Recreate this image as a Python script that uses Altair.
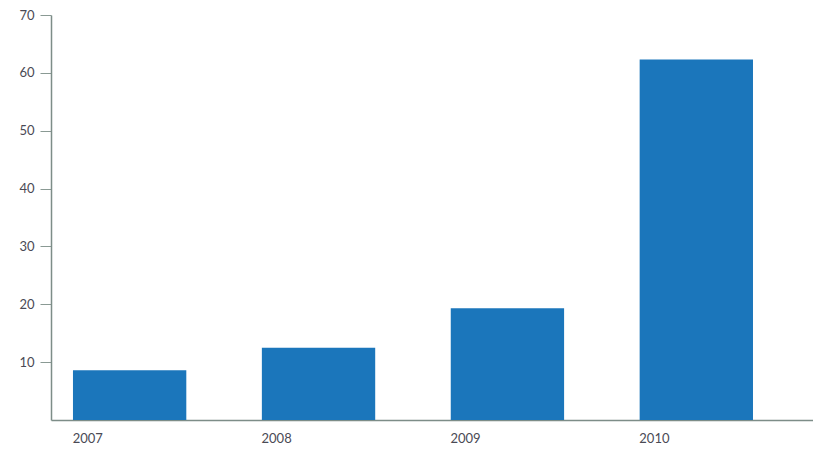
import altair as alt
import pandas as pd

years = ["2007", "2008", "2009", "2010"]
values = [8.6, 12.5, 19.3, 62.3]
y_ticks = [10, 20, 30, 40, 50, 60, 70]

df = pd.DataFrame({"year": years, "value": values})

chart = alt.Chart(df).mark_bar(color="#1b76bb").encode(
    x=alt.X("year:N", sort=years, title=None,
            scale=alt.Scale(paddingInner=0.4, paddingOuter=0.217, align=0.268),
            axis=alt.Axis(labelAngle=0, labelAlign="left", labelOffset=-57,
                          ticks=False, labelPadding=12, domainColor="#7d8d88",
                          domainWidth=1.5, labelColor="#4a4a55", labelFontSize=13,
                          labelFont="Lato")),
    y=alt.Y("value:Q", title=None,
            scale=alt.Scale(domain=[0, 70], nice=False),
            axis=alt.Axis(values=y_ticks, grid=False, tickSize=11, tickColor="#8a9a94",
                          domainColor="#7d8d88", domainWidth=1.5, labelPadding=6,
                          labelColor="#4a4a55", labelFontSize=13, labelFont="Lato")),
).properties(
    width=762, height=405,
    autosize=alt.AutoSizeParams(type="none"),
    padding={"left": 43, "top": 7, "right": 0, "bottom": 26},
).configure_view(stroke=None)

chart.save("out.html", embed_options={"renderer": "svg", "actions": False})
